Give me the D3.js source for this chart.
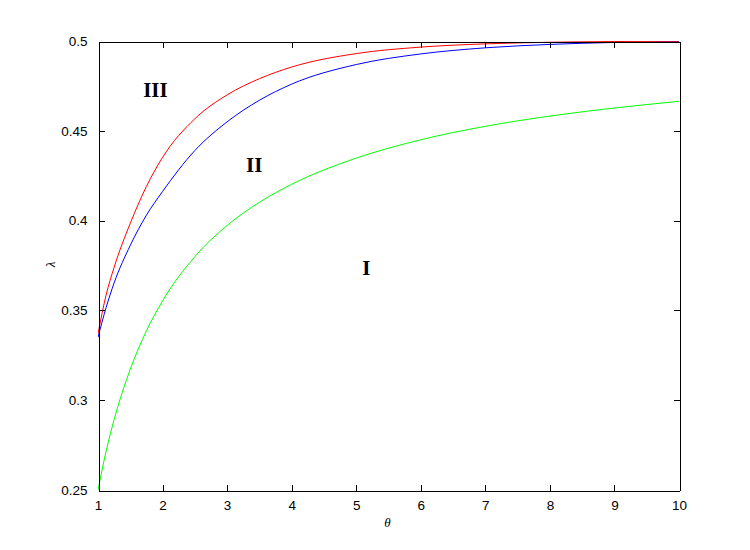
<!DOCTYPE html>
<html>
<head>
<meta charset="utf-8">
<script src="https://cdn.jsdelivr.net/npm/d3@7"></script>
<style>
  html, body { margin: 0; padding: 0; background: #fff; }
  svg { display: block; }
</style>
</head>
<body>
<svg id="chart" width="750" height="550"></svg>
<script>
// ---- data ----
const theta = [1, 1.125, 1.25, 1.5, 1.75, 2, 2.5, 3, 3.5, 4, 5, 6, 7, 8, 9, 10];
const curveI   = [0.250, 0.2715, 0.2892, 0.3172, 0.3386, 0.3553, 0.3799, 0.3973, 0.4102, 0.4202, 0.4348, 0.4450, 0.4525, 0.4582, 0.4627, 0.4664];
const curveII  = [0.335, 0.3515, 0.3653, 0.3862, 0.4030, 0.4162, 0.4390, 0.4550, 0.4670, 0.4760, 0.4869, 0.4928, 0.4962, 0.4981, 0.4992, 0.4997];
const curveIII = [0.337, 0.3585, 0.3740, 0.3985, 0.4190, 0.4352, 0.4567, 0.4700, 0.4790, 0.4855, 0.4930, 0.4966, 0.4984, 0.4993, 0.4997, 0.4999];
const xTicks = [1, 2, 3, 4, 5, 6, 7, 8, 9, 10];
const yTicks = [0.25, 0.3, 0.35, 0.4, 0.45, 0.5];
const yTickLabels = ["0.25", "0.3", "0.35", "0.4", "0.45", "0.5"];
const regionLabels = [
  { text: "III", x: 1.89, y: 0.4688 },
  { text: "II",  x: 3.42, y: 0.4269 },
  { text: "I",   x: 5.155, y: 0.3697 }
];
const seriesColors = { I: "#00ff00", II: "#0000ff", III: "#ff0000" };

// ---- layout ----
const L = 98, R = 679, T = 41, B = 490;
const svg = d3.select("#chart");
const x = d3.scaleLinear().domain([1, 10]).range([L, R]);
const y = d3.scaleLinear().domain([0.25, 0.5]).range([B, T]);

const line = d3.line()
  .x((d, i) => x(theta[i]))
  .y(d => y(d))
  .curve(d3.curveMonotoneX);

svg.append("defs").append("clipPath").attr("id", "plotclip")
  .append("rect").attr("x", L).attr("y", T).attr("width", R - L).attr("height", B - T);

const gLines = svg.append("g").attr("clip-path", "url(#plotclip)");
[["I", curveI], ["II", curveII], ["III", curveIII]].forEach(([k, vals]) => {
  gLines.append("path")
    .datum(vals)
    .attr("d", line)
    .attr("fill", "none")
    .attr("stroke", seriesColors[k])
    .attr("stroke-width", 1);
});

// region labels
svg.selectAll("text.region").data(regionLabels).enter().append("text")
  .attr("class", "region")
  .attr("x", d => x(d.x))
  .attr("y", d => y(d.y))
  .attr("text-anchor", "middle")
  .attr("font-family", "'Liberation Serif', 'Times New Roman', serif")
  .attr("font-weight", "bold")
  .attr("font-size", 21)
  .attr("fill", "#000")
  .text(d => d.text);

// axes (box with inward ticks on all sides)
const tickLen = 6;
const font = "'Liberation Sans', Arial, Helvetica, sans-serif";

const gB = svg.append("g").attr("transform", `translate(0,${B + 0.5})`)
  .call(d3.axisBottom(x).tickValues(xTicks).tickSizeInner(-tickLen).tickSizeOuter(0).tickPadding(10).tickFormat(d3.format("d")));
const gT = svg.append("g").attr("transform", `translate(0,${T + 0.5})`)
  .call(d3.axisTop(x).tickValues(xTicks).tickSizeInner(-tickLen).tickSizeOuter(0).tickFormat(""));
const gL = svg.append("g").attr("transform", `translate(${L + 0.5},0)`)
  .call(d3.axisLeft(y).tickValues(yTicks).tickSizeInner(-tickLen).tickSizeOuter(0).tickPadding(11).tickFormat((d, i) => yTickLabels[i]));
const gR = svg.append("g").attr("transform", `translate(${R + 0.5},0)`)
  .call(d3.axisRight(y).tickValues(yTicks).tickSizeInner(-tickLen).tickSizeOuter(0).tickFormat(""));

[gB, gT, gL, gR].forEach(g => {
  g.select(".domain").attr("stroke", "#000").attr("stroke-width", 1).attr("shape-rendering", "crispEdges");
  g.selectAll(".tick line").attr("stroke", "#000").attr("shape-rendering", "crispEdges");
  g.selectAll(".tick text").attr("font-family", font).attr("font-size", 13.5).attr("fill", "#000");
});
gB.selectAll(".tick").filter(d => d === 1 || d === 10).select("line").remove();
gT.selectAll(".tick").filter(d => d === 1 || d === 10).select("line").remove();
gL.selectAll(".tick").filter(d => d === 0.25 || d === 0.5).select("line").remove();
gR.selectAll(".tick").filter(d => d === 0.25 || d === 0.5).select("line").remove();

// axis labels
svg.append("text")
  .attr("x", (L + R) / 2 - 1)
  .attr("y", 527)
  .attr("text-anchor", "middle")
  .attr("font-family", "'Liberation Serif', 'Times New Roman', serif")
  .attr("font-style", "italic")
  .attr("font-size", 13)
  .text("θ");
svg.append("text")
  .attr("transform", `translate(55,264.5) rotate(-90)`)
  .attr("text-anchor", "middle")
  .attr("font-family", "'Liberation Serif', 'Times New Roman', serif")
  .attr("font-style", "italic")
  .attr("font-size", 13)
  .text("λ");
</script>
</body>
</html>
